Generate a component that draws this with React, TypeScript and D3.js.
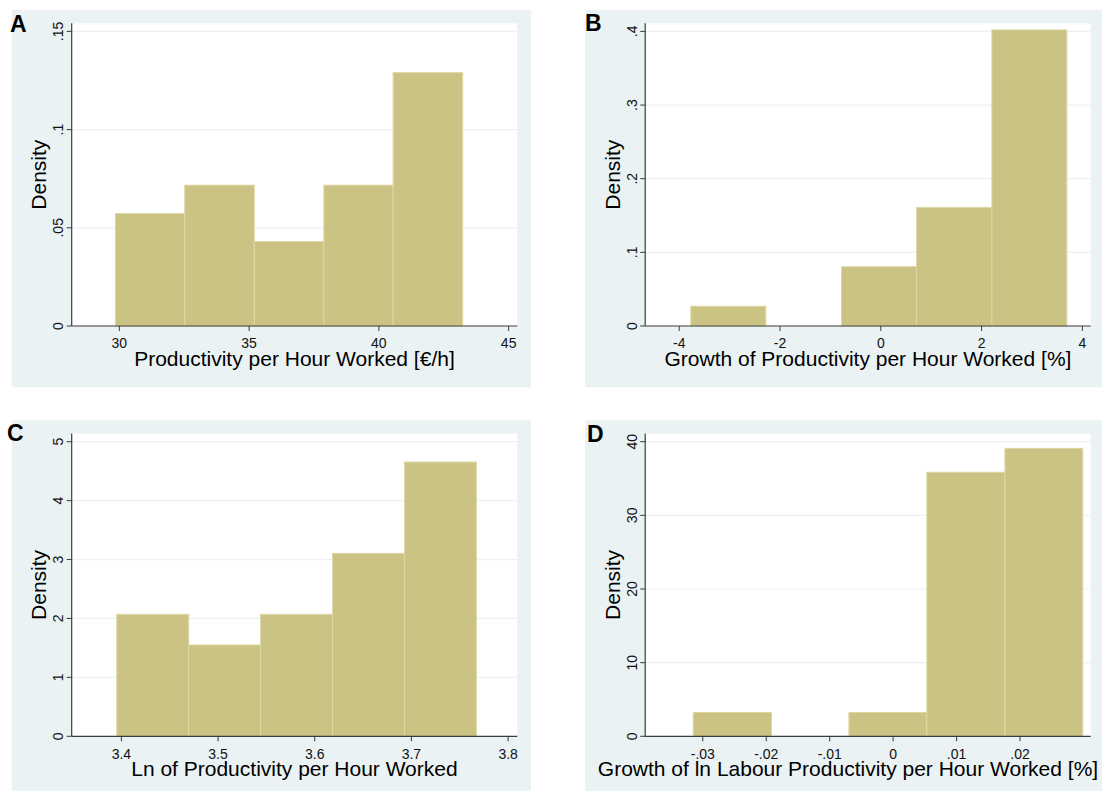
import React from 'react';
import * as d3 from 'd3';

// ---------- data ----------
const aEdges = [29.85, 32.52, 35.2, 37.88, 40.55, 43.23];
const aDensity = [0.0573, 0.0717, 0.043, 0.0717, 0.129];
const aXTicks = [30, 35, 40, 45];
const aXTickLabels = ['30', '35', '40', '45'];
const aYTicks = [0, 0.05, 0.1, 0.15];
const aYTickLabels = ['0', '.05', '.1', '.15'];
const aXRange = [28.165, 45.33];

const bEdges = [-3.77, -2.282, -0.78, 0.708, 2.204, 3.692];
const bDensity = [0.0268, 0, 0.0805, 0.161, 0.402];
const bXTicks = [-4, -2, 0, 2, 4];
const bXTickLabels = ['-4', '-2', '0', '2', '4'];
const bYTicks = [0, 0.1, 0.2, 0.3, 0.4];
const bYTickLabels = ['0', '.1', '.2', '.3', '.4'];
const bXRange = [-4.675, 4.165];

const cEdges = [3.3952, 3.4696, 3.544, 3.6184, 3.6928, 3.7672];
const cDensity = [2.07, 1.55, 2.07, 3.105, 4.655];
const cXTicks = [3.4, 3.5, 3.6, 3.7, 3.8];
const cXTickLabels = ['3.4', '3.5', '3.6', '3.7', '3.8'];
const cYTicks = [0, 1, 2, 3, 4, 5];
const cYTickLabels = ['0', '1', '2', '3', '4', '5'];
const cXRange = [3.3486, 3.8094];

const dEdges = [-0.0315, -0.01917, -0.00697, 0.00531, 0.01762, 0.02988];
const dDensity = [3.23, 0, 3.23, 35.85, 39.1];
const dXTicks = [-0.03, -0.02, -0.01, 0, 0.01, 0.02];
const dXTickLabels = ['-.03', '-.02', '-.01', '0', '.01', '.02'];
const dYTicks = [0, 10, 20, 30, 40];
const dYTickLabels = ['0', '10', '20', '30', '40'];
const dXRange = [-0.03908, 0.03114];

const panelLetters = ['A', 'B', 'C', 'D'];
const xTitles = [
  'Productivity per Hour Worked [€/h]',
  'Growth of Productivity per Hour Worked [%]',
  'Ln of Productivity per Hour Worked',
  'Growth of ln Labour Productivity per Hour Worked [%]',
];
const yTitle = 'Density';

// ---------- layout ----------
const W = 1102;
const H = 791;
const PLOT_LEFT = 71.7;
const PLOT_RIGHT = 517.2;
const PLOT_TOP = 23.3;
const AXIS_Y = 326;
const TOP_TICK_Y = 31.4;
const BG_X = 11.7;
const BG_Y = 10;
const BG_W = 519.3;
const BG_H = 377.3;
const OFFSETS = [
  [0, 0],
  [573.5, 0],
  [0, 410.3],
  [573.5, 410.3],
];
const LETTER_POS = [
  [10, 31.5],
  [11.5, 30.5],
  [7, 30.5],
  [13.5, 31.4],
];
const TITLE_X = [294.45, 294.45, 294.45, 274.5];

const BG_COLOR = '#EAF2F3';
const GRID_COLOR = '#EAF2F3';
const BAR_FILL = '#CBC383';
const BAR_STROKE = '#DDD7A5';
const AXIS_COLOR = '#3a3a3a';
const FONT = '"Liberation Sans", Arial, Helvetica, sans-serif';

const panels = [
  { edges: aEdges, dens: aDensity, xt: aXTicks, xtl: aXTickLabels, yt: aYTicks, ytl: aYTickLabels, xr: aXRange },
  { edges: bEdges, dens: bDensity, xt: bXTicks, xtl: bXTickLabels, yt: bYTicks, ytl: bYTickLabels, xr: bXRange },
  { edges: cEdges, dens: cDensity, xt: cXTicks, xtl: cXTickLabels, yt: cYTicks, ytl: cYTickLabels, xr: cXRange },
  { edges: dEdges, dens: dDensity, xt: dXTicks, xtl: dXTickLabels, yt: dYTicks, ytl: dYTickLabels, xr: dXRange },
];

function Panel({ i }: { i: number }) {
  const p = panels[i];
  const [ox, oy] = OFFSETS[i];
  const x = d3.scaleLinear().domain(p.xr).range([PLOT_LEFT, PLOT_RIGHT]);
  const y = d3
    .scaleLinear()
    .domain([0, p.yt[p.yt.length - 1]])
    .range([AXIS_Y, TOP_TICK_Y]);
  const bins = p.dens.map((v, k) => ({ x0: p.edges[k], x1: p.edges[k + 1], v }));
  return (
    <g transform={`translate(${ox},${oy})`}>
      <rect x={BG_X} y={BG_Y} width={BG_W} height={BG_H} fill={BG_COLOR} />
      <rect x={PLOT_LEFT} y={PLOT_TOP} width={PLOT_RIGHT - PLOT_LEFT} height={AXIS_Y - PLOT_TOP} fill="#fff" />
      {p.yt.slice(1).map((t, k) => (
        <line key={'g' + k} x1={PLOT_LEFT} x2={PLOT_RIGHT} y1={y(t)} y2={y(t)} stroke={GRID_COLOR} strokeWidth={1.2} />
      ))}
      {bins
        .filter((b) => b.v > 0)
        .map((b, k) => (
          <rect
            key={'b' + k}
            x={x(b.x0)}
            y={y(b.v)}
            width={x(b.x1) - x(b.x0)}
            height={AXIS_Y - y(b.v)}
            fill={BAR_FILL}
            stroke={BAR_STROKE}
            strokeWidth={1}
          />
        ))}
      <line x1={PLOT_LEFT} x2={PLOT_LEFT} y1={PLOT_TOP} y2={AXIS_Y} stroke={AXIS_COLOR} strokeWidth={1.2} />
      <line x1={PLOT_LEFT} x2={PLOT_RIGHT} y1={AXIS_Y} y2={AXIS_Y} stroke={AXIS_COLOR} strokeWidth={1.2} />
      {p.yt.map((t, k) => (
        <g key={'yt' + k}>
          <line x1={PLOT_LEFT - 5} x2={PLOT_LEFT} y1={y(t)} y2={y(t)} stroke={AXIS_COLOR} strokeWidth={1} />
          <text
            transform={`translate(63.3,${y(t)}) rotate(-90)`}
            textAnchor="middle"
            fontFamily={FONT}
            fontSize={14}
            fill="#111"
          >
            {p.ytl[k]}
          </text>
        </g>
      ))}
      {p.xt.map((t, k) => (
        <g key={'xt' + k}>
          <line x1={x(t)} x2={x(t)} y1={AXIS_Y} y2={AXIS_Y + 5} stroke={AXIS_COLOR} strokeWidth={1} />
          <text x={x(t)} y={348.3} textAnchor="middle" fontFamily={FONT} fontSize={14} fill="#111">
            {p.xtl[k]}
          </text>
        </g>
      ))}
      <text x={TITLE_X[i]} y={365.7} textAnchor="middle" fontFamily={FONT} fontSize={21} fill="#000">
        {xTitles[i]}
      </text>
      <text
        transform={`translate(46,${(PLOT_TOP + AXIS_Y) / 2}) rotate(-90)`}
        textAnchor="middle"
        fontFamily={FONT}
        fontSize={21}
        fill="#000"
      >
        {yTitle}
      </text>
      <text
        x={LETTER_POS[i][0]}
        y={LETTER_POS[i][1]}
        fontFamily={FONT}
        fontWeight="bold"
        fontSize={23}
        fill="#000"
      >
        {panelLetters[i]}
      </text>
    </g>
  );
}

export default function App() {
  return (
    <div style={{ position: 'absolute', left: 0, top: 0, width: W, height: H, background: '#fff' }}>
      <svg width={W} height={H} viewBox={`0 0 ${W} ${H}`} style={{ display: 'block' }}>
        <rect x={0} y={0} width={W} height={H} fill="#fff" />
        {panels.map((_, i) => (
          <Panel key={i} i={i} />
        ))}
      </svg>
    </div>
  );
}
